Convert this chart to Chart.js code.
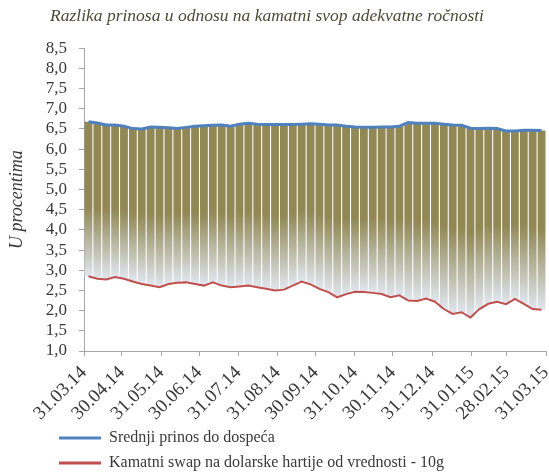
<!DOCTYPE html>
<html>
<head>
<meta charset="utf-8">
<script src="https://cdn.jsdelivr.net/npm/chart.js@4"></script>
<style>
  html, body { margin: 0; padding: 0; background: #fff; }
  #okvir { width: 549px; height: 476px; }
</style>
</head>
<body>
<div id="okvir"><canvas id="grafik"></canvas></div>
<script>
const naslov = "Razlika prinosa u odnosu na kamatni svop adekvatne ročnosti";
const nazivY = "U procentima";
const nazivPrinos = "Srednji prinos do dospeća";
const nazivSwap = "Kamatni swap na dolarske hartije od vrednosti - 10g";

// oznake na x osi (kraj meseca)
const oznakeDatuma = [
  "31.03.14", "30.04.14", "31.05.14", "30.06.14", "31.07.14", "31.08.14", "30.09.14",
  "31.10.14", "30.11.14", "31.12.14", "31.01.15", "28.02.15", "31.03.15",
];

// nedeljne vrednosti, u procentima
const srednjiPrinos = [
  6.68, 6.65, 6.60, 6.60, 6.57, 6.51, 6.50, 6.55, 6.54, 6.53,
  6.51, 6.54, 6.57, 6.58, 6.59, 6.60, 6.57, 6.62, 6.64, 6.62,
  6.61, 6.61, 6.61, 6.61, 6.62, 6.63, 6.62, 6.60, 6.60, 6.57,
  6.55, 6.54, 6.54, 6.55, 6.55, 6.57, 6.66, 6.64, 6.64, 6.64,
  6.62, 6.60, 6.59, 6.52, 6.51, 6.52, 6.51, 6.45, 6.45, 6.47,
  6.47, 6.46,
];

const kamatniSwap = [
  2.85, 2.79, 2.77, 2.83, 2.79, 2.72, 2.66, 2.62, 2.58, 2.66,
  2.69, 2.70, 2.66, 2.62, 2.70, 2.62, 2.58, 2.60, 2.62, 2.58,
  2.54, 2.50, 2.52, 2.62, 2.72, 2.65, 2.54, 2.46, 2.33, 2.41,
  2.47, 2.46, 2.44, 2.41, 2.33, 2.38, 2.25, 2.24, 2.30, 2.22,
  2.04, 1.92, 1.96, 1.83, 2.04, 2.17, 2.22, 2.16, 2.29, 2.17,
  2.04, 2.02,
];

const font = "'Liberation Serif', 'Times New Roman', serif";
const bojaTeksta = "#3a3a3a";
const bojaOse = "#a6a6a6";
const maslinasta = "#918854";

function uDatum(s) {
  const [d, m, g] = s.split(".").map(Number);
  return new Date(2000 + g, m - 1, d);
}

const pocetak = uDatum(oznakeDatuma[0]);
const daniOznaka = oznakeDatuma.map((s) => Math.round((uDatum(s) - pocetak) / 86400000));
const sedmice = srednjiPrinos.map((_, i) => "n" + (i + 1));
const razlika = srednjiPrinos.map((v, i) => [kamatniSwap[i], v]);

function formatBroj(v) {
  return Number(v).toFixed(1).replace(".", ",");
}

function gradijentStubca(context) {
  const chart = context.chart;
  const { chartArea, scales } = chart;
  if (!chartArea || !Array.isArray(context.raw)) return maslinasta;
  const [donja, gornja] = context.raw;
  const yGore = scales.y.getPixelForValue(gornja);
  const yDole = scales.y.getPixelForValue(donja);
  const g = chart.ctx.createLinearGradient(0, yGore, 0, yDole);
  g.addColorStop(0, maslinasta);
  g.addColorStop(0.55, maslinasta);
  g.addColorStop(1, "#e0e6ee");
  return g;
}

// legenda i naslov pomereni kao u originalu
const pomeranja = {
  id: "pomeranja",
  afterLayout(chart) {
    if (chart.legend) {
      chart.legend.left += 46;
      chart.legend.right += 46;
    }
    if (chart.titleBlock) {
      chart.titleBlock.left -= 8;
      chart.titleBlock.right -= 8;
    }
  },
};

const ctx = document.getElementById("grafik").getContext("2d");

new Chart(ctx, {
  type: "bar",
  data: {
    labels: sedmice,
    datasets: [
      {
        type: "line",
        label: nazivPrinos,
        data: srednjiPrinos,
        borderColor: "#4f81bd",
        backgroundColor: "#4f81bd",
        borderWidth: 3,
        pointRadius: 0,
        tension: 0,
        order: 1,
      },
      {
        type: "line",
        label: nazivSwap,
        data: kamatniSwap,
        borderColor: "#c0504d",
        backgroundColor: "#c0504d",
        borderWidth: 2,
        pointRadius: 0,
        tension: 0,
        order: 2,
      },
      {
        label: "Razlika",
        data: razlika,
        backgroundColor: gradijentStubca,
        borderWidth: 0,
        barPercentage: 0.88,
        categoryPercentage: 1,
        order: 10,
      },
    ],
  },
  options: {
    responsive: true,
    maintainAspectRatio: false,
    animation: false,
    layout: {
      padding: { left: 4, right: 3, top: 0, bottom: -5 },
    },
    plugins: {
      tooltip: { enabled: false },
      title: {
        display: true,
        text: naslov,
        color: "#4d4a35",
        font: { family: font, size: 17.5, style: "italic", weight: "normal", lineHeight: 1.1 },
        padding: { top: 7, bottom: 22 },
      },
      legend: {
        position: "bottom",
        align: "start",
        labels: {
          boxWidth: 42,
          boxHeight: 3,
          padding: 9,
          color: bojaTeksta,
          font: { family: font, size: 16 },
          filter: (item) => item.datasetIndex < 2,
          generateLabels: (chart) =>
            Chart.defaults.plugins.legend.labels.generateLabels(chart).map((it) => ({
              ...it,
              fillStyle: it.strokeStyle,
              lineWidth: 0,
            })),
        },
      },
    },
    scales: {
      x: {
        display: false,
        offset: true,
      },
      xd: {
        type: "linear",
        position: "bottom",
        offset: false,
        min: daniOznaka[0],
        max: daniOznaka[daniOznaka.length - 1],
        afterBuildTicks: (scale) => {
          scale.ticks = daniOznaka.map((v) => ({ value: v }));
        },
        afterFit: (scale) => {
          scale.paddingRight = 0;
          scale.height = 70;
        },
        ticks: {
          autoSkip: false,
          minRotation: 45,
          maxRotation: 45,
          padding: 7,
          color: bojaTeksta,
          font: { family: font, size: 19, lineHeight: 1 },
          callback: (v, i) => oznakeDatuma[i],
        },
        grid: { offset: false, drawOnChartArea: false, drawTicks: true, tickLength: 5, color: bojaOse },
        border: { color: bojaOse, width: 1 },
      },
      y: {
        min: 1,
        max: 8.5,
        ticks: {
          stepSize: 0.5,
          autoSkip: false,
          padding: 12,
          color: bojaTeksta,
          font: { family: font, size: 17, lineHeight: 1 },
          callback: (v) => formatBroj(v),
        },
        grid: { drawOnChartArea: false, drawTicks: true, tickLength: 5, color: bojaOse },
        border: { color: bojaOse, width: 1 },
        title: {
          display: true,
          text: nazivY,
          color: bojaTeksta,
          font: { family: font, size: 18, style: "italic" },
          padding: { top: 2, bottom: 0 },
        },
        afterFit: (scale) => {
          scale.width = 80;
        },
      },
    },
  },
  plugins: [pomeranja],
});
</script>
</body>
</html>
